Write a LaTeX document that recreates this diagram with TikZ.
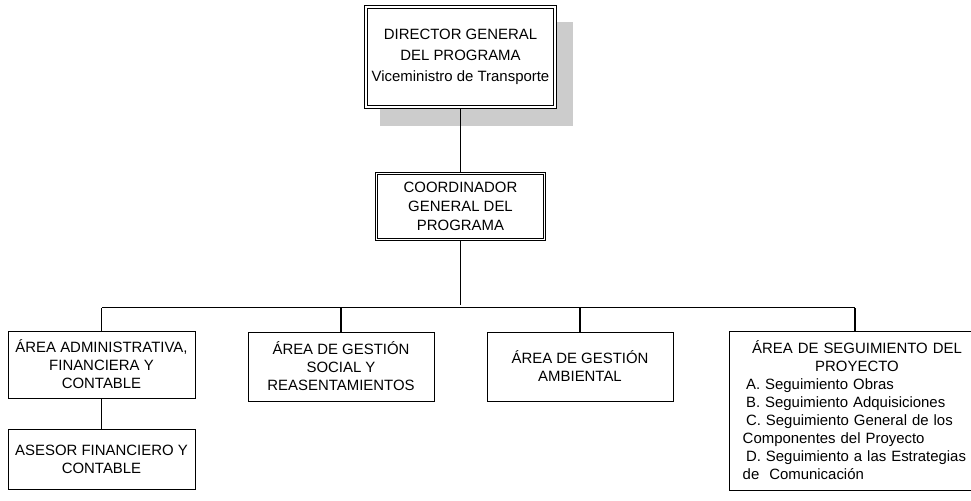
\documentclass[tikz,border=0pt]{standalone}
\usepackage{fontspec}
\setmainfont{Liberation Sans}
\begin{document}
\begin{tikzpicture}[x=0.75pt,y=-0.75pt,
  base/.style={fill=white,inner sep=0pt,align=center,
    font=\fontsize{11.2}{13.5}\selectfont},
  dbox/.style={base,draw,line width=1pt},
  cbox/.style={base,draw,line width=0.85pt,font=\fontsize{11.2}{14.1}\selectfont},
  innerline/.style={line width=0.75pt},
  sbox/.style={base,draw,line width=0.75pt},
  conn/.style={line width=0.8pt},
  busline/.style={line width=1.4pt}]
\useasboundingbox (0,0) rectangle (971,500);
% shadow of the director box
\fill[gray!40] (380,22) rectangle (573,126);
\node[dbox,minimum width=144pt,minimum height=77.25pt,
  font=\fontsize{11.2}{15.75}\selectfont] (dir) at (460.5,57)
  {DIRECTOR GENERAL\\DEL PROGRAMA\\Viceministro de Transporte};
\draw[innerline] ([shift={(4,4)}]dir.north west) rectangle ([shift={(-4,-4)}]dir.south east);
\node[cbox,minimum width=127.5pt,minimum height=51pt] (coord) at (460.5,206.5)
  {COORDINADOR\\GENERAL DEL\\PROGRAMA};
\draw[innerline] ([shift={(3,3)}]coord.north west) rectangle ([shift={(-3,-3)}]coord.south east);
\node[sbox,minimum width=140.25pt,minimum height=50.25pt] (adm) at (101.5,364.5)
  {ÁREA ADMINISTRATIVA,\\FINANCIERA Y\\CONTABLE};
\node[sbox,minimum width=140.25pt,minimum height=45pt] (ases) at (101.5,459)
  {ASESOR FINANCIERO Y\\CONTABLE};
\node[sbox,minimum width=139.5pt,minimum height=51.75pt] (soc) at (341,366.5)
  {ÁREA DE GESTIÓN\\SOCIAL Y\\REASENTAMIENTOS};
\node[sbox,minimum width=139.5pt,minimum height=51.75pt] (amb) at (580,366.5)
  {ÁREA DE GESTIÓN\\AMBIENTAL};
\node[sbox,align=left,text width=171.4pt,inner xsep=10.3pt,inner ysep=0pt,
  minimum width=192pt,minimum height=119.25pt] (seg) at (857,410.5)
  {\parindent=0pt{\centering ÁREA DE SEGUIMIENTO DEL\\PROYECTO\par}%
   \hspace*{2.5pt}A. Seguimiento Obras\\
   \hspace*{2.5pt}B. Seguimiento Adquisiciones\\
   \hspace*{2.5pt}C. Seguimiento General de los\\
   Componentes del Proyecto\\
   \hspace*{2.5pt}D. Seguimiento a las Estrategias\\
   de\ \ Comunicación};
% connectors
\coordinate (cbus) at (460.5,305);
\coordinate (busL) at (101.5,307.5);
\coordinate (busR) at (855,307.5);
\draw[conn] (dir.south) -- (coord.north);
\draw[conn] (coord.south) -- (cbus);
\draw[busline] (busL) -- (busR);
\draw[conn] (adm.north) -- (adm.north |- busL);
\draw[conn] (soc.north) -- (soc.north |- busL);
\draw[conn] (amb.north) -- (amb.north |- busL);
\draw[conn] (busR |- seg.north) -- (busR);
\draw[conn] (adm.south) -- (ases.north);
\end{tikzpicture}
\end{document}
